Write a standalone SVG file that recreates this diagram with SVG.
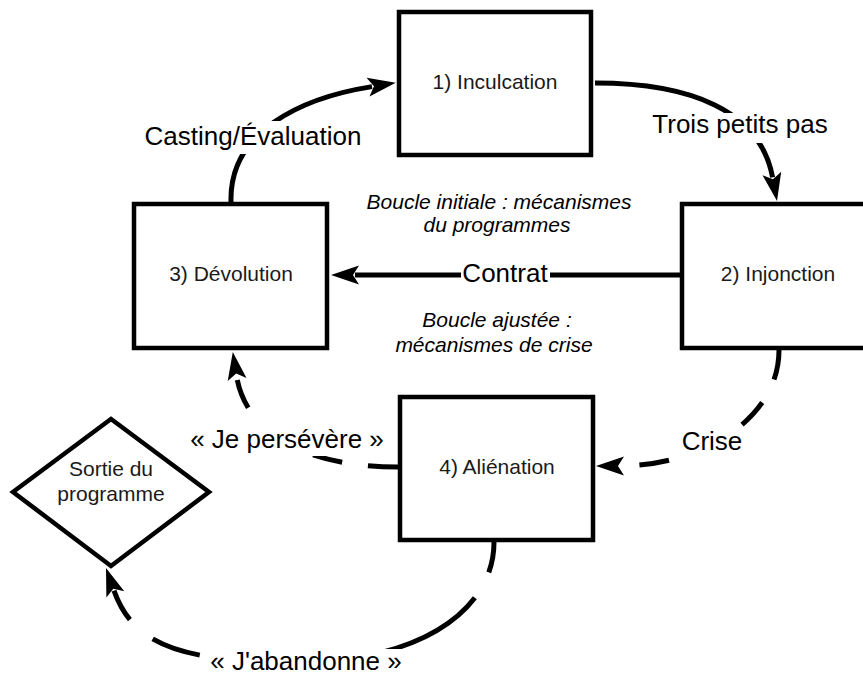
<svg xmlns="http://www.w3.org/2000/svg" width="863" height="677" viewBox="0 0 863 677">
<style>
.box{fill:#fff;stroke:#000;stroke-width:4.5}
.lbl{font-family:"Liberation Sans",Arial,sans-serif;font-size:21px;fill:#1a1a1a;text-anchor:middle}
.el{font-family:"Liberation Sans",Arial,sans-serif;font-size:26px;fill:#000;text-anchor:middle}
.it{font-family:"Liberation Sans",Arial,sans-serif;font-size:21px;font-style:italic;fill:#000;text-anchor:middle}
.edge{fill:none;stroke:#000;stroke-width:5}
.dash{stroke-dasharray:30 26}
.bg{fill:#fff}
</style>
<defs>
<marker id="arr" markerUnits="userSpaceOnUse" markerWidth="40" markerHeight="30" viewBox="-10 -15 40 30" refX="0" refY="0" orient="auto">
<path d="M24,0 L-4,-9.5 L2,0 L-4,9.5 Z" fill="#000"/>
</marker>
</defs>
<rect width="863" height="677" fill="#fff"/>
<g id="connectors">
<path class="edge" d="M231,202 C229,132 300,98 372,86.6" marker-end="url(#arr)"/>
<path class="edge" d="M595,83 C690,83 760,110 772.6,177.4" marker-end="url(#arr)"/>
<path class="edge" d="M680,275 L355,275" marker-end="url(#arr)"/>
<path class="edge dash" d="M779,350 C779,420 700,466 620,466" marker-end="url(#arr)"/>
<path class="edge dash" d="M398,467 C300,467 245,430 236.5,375.6" marker-end="url(#arr)"/>
<path class="edge" style="stroke-dasharray:31 29 110 183 50 30 60" d="M494,542 C494,620 400,662 305,662 C190,662 135,650 114,590.6" marker-end="url(#arr)"/>
<rect class="bg" x="141" y="121" width="225" height="33"/>
<text class="el" x="253" y="145">Casting/Évaluation</text>
<rect class="bg" x="655" y="113" width="170" height="30"/>
<text class="el" x="740" y="133">Trois petits pas</text>
<rect class="bg" x="461" y="260" width="89" height="30"/>
<text class="el" x="505" y="282">Contrat</text>
<rect class="bg" x="680" y="429" width="66" height="28"/>
<text class="el" x="712" y="450">Crise</text>
<rect class="bg" x="186" y="425" width="203" height="31"/>
<text class="el" x="287" y="448">« Je persévère »</text>
<rect class="bg" x="205" y="649" width="204" height="28"/>
<text class="el" x="306" y="670">« J'abandonne »</text>
</g>
<g id="n1">
<rect class="box" x="399" y="12" width="192" height="143"/>
<text class="lbl" x="495" y="89">1) Inculcation</text>
</g>
<g id="n2">
<rect class="box" x="682" y="204" width="193" height="144"/>
<text class="lbl" x="778" y="281">2) Injonction</text>
</g>
<g id="n3">
<rect class="box" x="134" y="204" width="193" height="144"/>
<text class="lbl" x="231" y="281">3) Dévolution</text>
</g>
<g id="n4">
<rect class="box" x="400" y="397" width="193" height="143"/>
<text class="lbl" x="497" y="474">4) Aliénation</text>
</g>
<g id="exit">
<polygon class="box" points="111,419 209,492 111,566 13,492"/>
<text class="lbl" x="111" y="476">Sortie du</text>
<text class="lbl" x="111" y="501">programme</text>
</g>
<g id="notes">
<text class="it" x="499" y="209">Boucle initiale : mécanismes</text>
<text class="it" x="497" y="232">du programmes</text>
<text class="it" x="497" y="327">Boucle ajustée :</text>
<text class="it" x="494" y="352">mécanismes de crise</text>
</g>
</svg>
